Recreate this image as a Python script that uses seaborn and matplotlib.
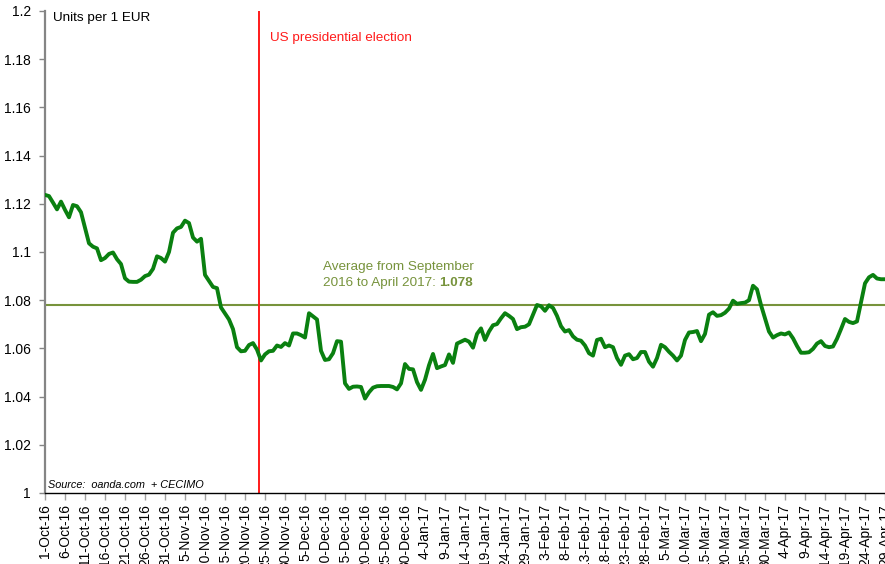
import matplotlib
matplotlib.use("Agg")
import matplotlib.pyplot as plt
import matplotlib.dates as mdates
import seaborn as sns
import pandas as pd
import numpy as np

# ---- data (daily EUR/USD, units per 1 EUR) ----
start_date = "2016-10-01"
rate = [
    1.1237, 1.1232, 1.1205, 1.1177, 1.1209, 1.1175, 1.1144, 1.1195, 1.1190, 1.1165,
    1.1100, 1.1036, 1.1022, 1.1015, 1.0966, 1.0975, 1.0992, 1.0998, 1.0970, 1.0950,
    1.0891, 1.0877, 1.0876, 1.0876, 1.0885, 1.0900, 1.0906, 1.0930, 1.0982, 1.0975,
    1.0960, 1.1000, 1.1080, 1.1098, 1.1104, 1.1130, 1.1120, 1.1060, 1.1043, 1.1055,
    1.0905, 1.0880, 1.0855, 1.0850, 1.0770, 1.0745, 1.0720, 1.0680, 1.0605, 1.0588,
    1.0590, 1.0614, 1.0622, 1.0595, 1.0550, 1.0575, 1.0588, 1.0590, 1.0612, 1.0606,
    1.0622, 1.0612, 1.0662, 1.0662, 1.0655, 1.0645, 1.0746, 1.0733, 1.0720, 1.0590,
    1.0552, 1.0555, 1.0580, 1.0630, 1.0628, 1.0455, 1.0432, 1.0441, 1.0442, 1.0440,
    1.0392, 1.0418, 1.0437, 1.0443, 1.0444, 1.0444, 1.0444, 1.0440, 1.0430, 1.0455,
    1.0535, 1.0515, 1.0513, 1.0460, 1.0428, 1.0470, 1.0530, 1.0577, 1.0518, 1.0525,
    1.0531, 1.0575, 1.0540, 1.0620, 1.0628, 1.0636, 1.0628, 1.0603, 1.0660, 1.0683,
    1.0635, 1.0670, 1.0696, 1.0701, 1.0725, 1.0746, 1.0735, 1.0722, 1.0680, 1.0688,
    1.0690, 1.0700, 1.0740, 1.0780, 1.0775, 1.0756, 1.0779, 1.0768, 1.0735, 1.0692,
    1.0670, 1.0676, 1.0650, 1.0636, 1.0632, 1.0612, 1.0580, 1.0570, 1.0635, 1.0640,
    1.0605, 1.0612, 1.0605, 1.0560, 1.0532, 1.0570, 1.0576, 1.0555, 1.0560, 1.0585,
    1.0585, 1.0545, 1.0524, 1.0560, 1.0615, 1.0605, 1.0586, 1.0570, 1.0550, 1.0570,
    1.0635, 1.0666, 1.0668, 1.0672, 1.0630, 1.0660, 1.0740, 1.0750, 1.0735, 1.0738,
    1.0748, 1.0765, 1.0798, 1.0785, 1.0788, 1.0790, 1.0800, 1.0860, 1.0845, 1.0780,
    1.0725, 1.0670, 1.0645, 1.0655, 1.0662, 1.0658, 1.0666, 1.0642, 1.0610, 1.0582,
    1.0582, 1.0584, 1.0598, 1.0620, 1.0630, 1.0610, 1.0605, 1.0608, 1.0640, 1.0680,
    1.0722, 1.0710, 1.0705, 1.0712, 1.0790, 1.0870, 1.0895, 1.0905, 1.0890, 1.0887,
    1.0887,
]
average_value = 1.078
election_marker = "2016-11-23 12:00"
y_ticks = [1.0, 1.02, 1.04, 1.06, 1.08, 1.1, 1.12, 1.14, 1.16, 1.18, 1.2]
y_tick_labels = ["1", "1.02", "1.04", "1.06", "1.08", "1.1", "1.12", "1.14", "1.16", "1.18", "1.2"]
unit_label = "Units per 1 EUR"
event_label = "US presidential election"
avg_label_line1 = "Average from September"
avg_label_line2 = "2016 to April 2017: "
source_label = "Source:  oanda.com  + CECIMO"

dates = pd.date_range(start_date, periods=len(rate), freq="D")
df = pd.DataFrame({"date": dates, "rate": rate})

sns.set_theme(style="white")
plt.rcParams["font.family"] = ["Liberation Sans", "DejaVu Sans"]

fig = plt.figure(figsize=(8.85, 5.64), dpi=100)
W, H = 885, 564
left_px, top_px, bottom_px = 45, 11, 493
px_per_day = 4.0
n_days_axis = 212
ax = fig.add_axes([left_px / W, (H - bottom_px) / H,
                   n_days_axis * px_per_day / W, (bottom_px - top_px) / H])

green = "#0A8010"
olive = "#77933C"

# average line
ax.axhline(average_value, color=olive, lw=1.5, zorder=2)
# event line
ax.axvline(pd.Timestamp(election_marker), color="#FF1A1A", lw=1.4, zorder=2)

sns.lineplot(data=df, x="date", y="rate", ax=ax, color=green, lw=2.8,
             zorder=3, solid_capstyle="round", solid_joinstyle="round")

x0 = dates[0]
ax.set_xlim(x0, x0 + pd.Timedelta(days=n_days_axis))
ax.set_ylim(1.0, 1.2)
ax.set_yticks(y_ticks)
ax.set_yticklabels(y_tick_labels)
ax.set_xlabel("")
ax.set_ylabel("")

tick_dates = pd.date_range(start_date, x0 + pd.Timedelta(days=n_days_axis), freq="5D")
ax.set_xticks(tick_dates)
ax.set_xticklabels([f"{d.day}-{d.strftime('%b-%y')}" for d in tick_dates],
                   rotation=90, ha="center", va="top")

for s in ["top", "right"]:
    ax.spines[s].set_visible(False)
ax.spines["left"].set_color("#858585")
ax.spines["left"].set_linewidth(1.6)
ax.spines["bottom"].set_color("black")
ax.spines["bottom"].set_linewidth(1.0)

ax.tick_params(axis="y", which="major", direction="out", length=4, width=1,
               color="#858585", labelsize=10, pad=6, left=True)
ax.tick_params(axis="x", which="major", direction="out", length=5, width=1,
               color="#A0A0A0", labelsize=10, pad=3, bottom=True)
for lab in ax.get_yticklabels() + ax.get_xticklabels():
    lab.set_color("black")

# texts
fs = 9.7
fig.text(53 / W, 1 - 18 / H, unit_label, fontsize=fs, color="black",
         ha="left", va="center")
fig.text(270 / W, 1 - 38 / H, event_label, fontsize=fs, color="#FF1A1A",
         ha="left", va="center")
fig.text(323 / W, 1 - 267 / H, avg_label_line1, fontsize=fs, color=olive,
         ha="left", va="center")
t2 = fig.text(323 / W, 1 - 283 / H, avg_label_line2, fontsize=fs, color=olive,
              ha="left", va="center")
fig.canvas.draw()
bb = t2.get_window_extent()
fig.text(bb.x1 / W, 1 - 283 / H, f"{average_value:.3f}", fontsize=fs, color=olive,
         fontweight="bold", ha="left", va="center")
fig.text(48 / W, 1 - 485 / H, source_label, fontsize=7.8, color="black",
         style="italic", ha="left", va="center")

fig.savefig("out.png", dpi=100)
